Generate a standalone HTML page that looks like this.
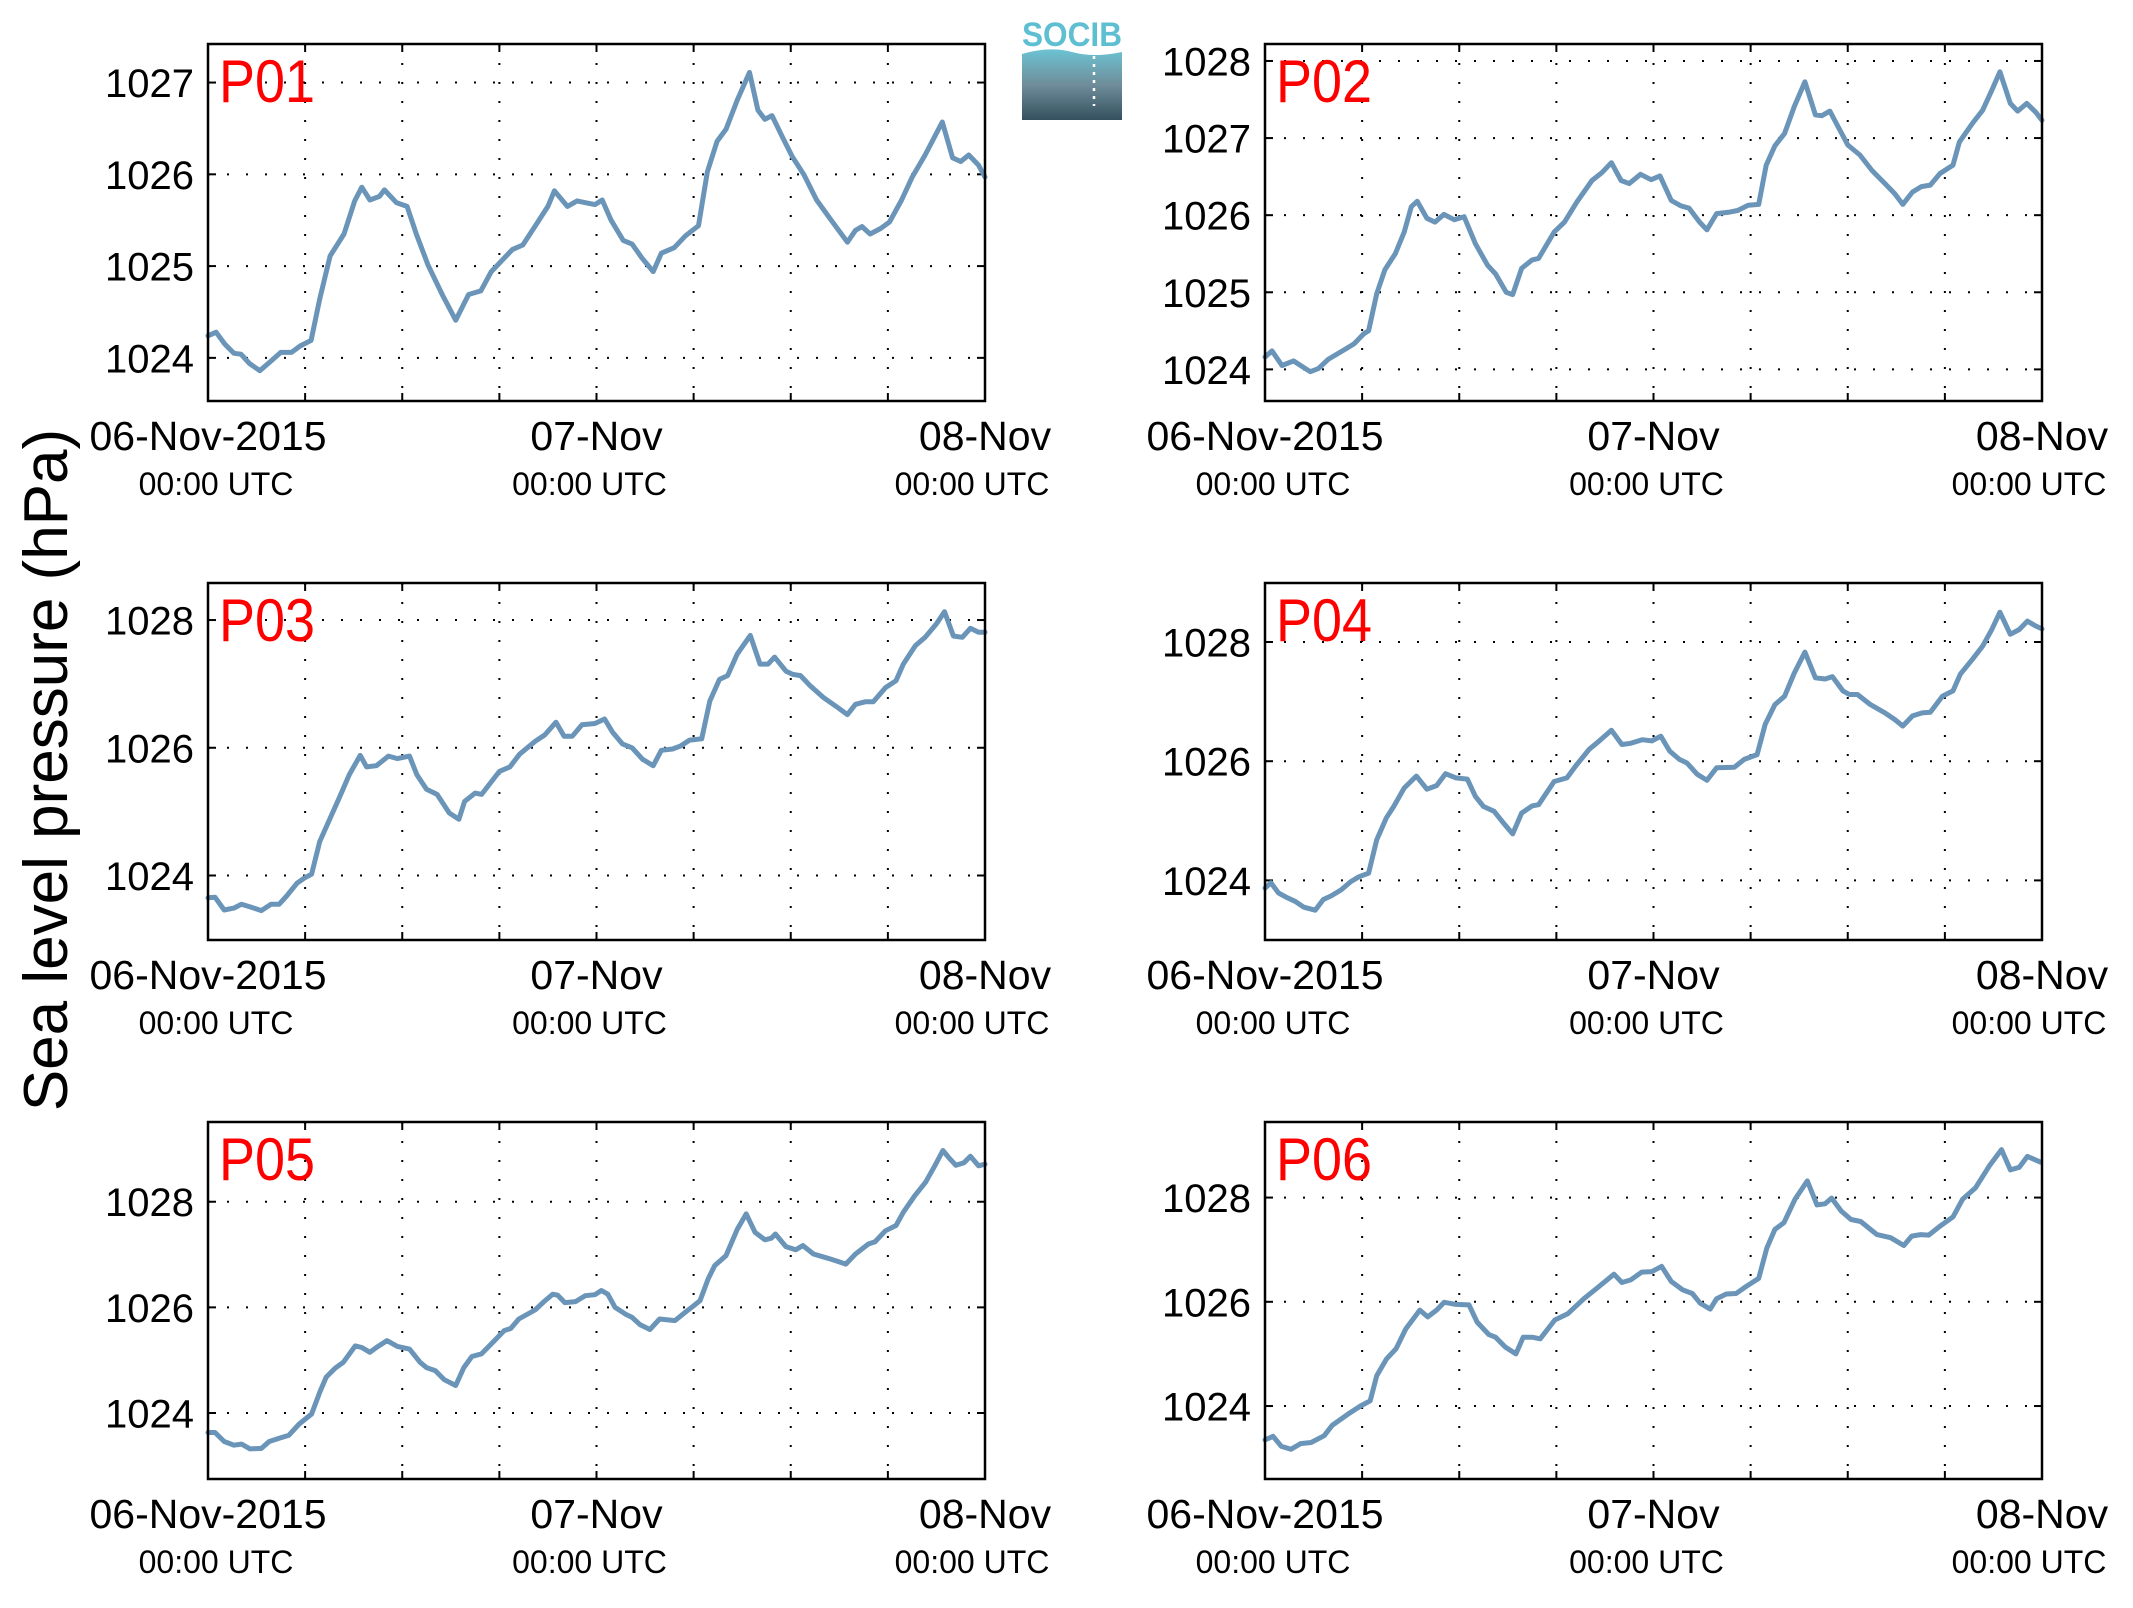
<!DOCTYPE html>
<html><head><meta charset="utf-8">
<style>
html,body{margin:0;padding:0;background:#fff;}
svg{display:block;}
text{font-family:"Liberation Sans",Arial,sans-serif;}
</style></head>
<body>
<svg id="chart" width="2133" height="1608" viewBox="0 0 2133 1608" xmlns="http://www.w3.org/2000/svg">
  <rect x="0" y="0" width="2133" height="1608" fill="#fff"/>
  <text x="0" y="0" font-size="62" text-anchor="middle" transform="translate(67,770) rotate(-90)" fill="#000">Sea level pressure (hPa)</text>
  <g>
    <defs>
      <linearGradient id="lg" x1="0" y1="0" x2="0" y2="1">
        <stop offset="0" stop-color="#6cc3d3"/>
        <stop offset="0.5" stop-color="#6f8d9a"/>
        <stop offset="1" stop-color="#34505e"/>
      </linearGradient>
    </defs>
    <text x="1072" y="46" font-size="34" font-weight="bold" text-anchor="middle" fill="#5fbfd2" textLength="100" lengthAdjust="spacingAndGlyphs">SOCIB</text>
    <path d="M1022 54 Q1050 46 1072 52 T1122 52 L1122 120 L1022 120 Z" fill="url(#lg)"/>
    <line x1="1094" y1="56" x2="1094" y2="106" stroke="#fff" stroke-width="2.5" stroke-dasharray="3 5"/>
  </g>
  <g id="panels"></g>
</svg>
<script>
const hourTicks = [0, 24, 48];
const dateLabels = ["06-Nov-2015", "07-Nov", "08-Nov"];
const timeLabels = ["00:00 UTC", "00:00 UTC", "00:00 UTC"];

const p01Hours = [0,0.5,1.04,1.6,2.04,2.56,3.2,3.86,4.5,5.16,5.7,6.37,6.9,7.54,8.4,9.06,9.5,10,10.6,10.9,11.65,12.3,12.87,13.6,14.5,15.3,16.1,16.85,17.5,18.15,18.8,19.45,20.3,21,21.4,22.2,22.8,23.35,23.9,24.35,24.9,25.65,26.2,26.8,27.5,28,28.8,29.5,30.3,30.85,31.45,32,32.7,33.45,33.97,34.4,34.84,35.5,36.1,36.8,37.6,38.5,39.5,40,40.4,40.9,41.55,42.1,42.85,43.5,44.3,45.36,46,46.5,47,47.6,48];
const p01Values = [1024.24,1024.28,1024.15,1024.05,1024.04,1023.94,1023.86,1023.96,1024.06,1024.06,1024.13,1024.19,1024.64,1025.11,1025.35,1025.71,1025.86,1025.72,1025.76,1025.83,1025.69,1025.65,1025.35,1025.01,1024.68,1024.41,1024.69,1024.73,1024.94,1025.06,1025.18,1025.23,1025.46,1025.65,1025.82,1025.65,1025.71,1025.69,1025.67,1025.72,1025.5,1025.28,1025.24,1025.09,1024.94,1025.14,1025.2,1025.33,1025.44,1026.03,1026.36,1026.49,1026.81,1027.11,1026.7,1026.6,1026.64,1026.4,1026.19,1026.0,1025.72,1025.5,1025.26,1025.39,1025.43,1025.35,1025.41,1025.48,1025.72,1025.97,1026.21,1026.57,1026.18,1026.14,1026.21,1026.1,1025.97];

const p02Hours = [0,0.43,1.05,1.76,2.2,2.8,3.3,3.9,4.86,5.5,6.1,6.4,6.9,7.4,8.05,8.6,9.04,9.4,10,10.5,11.05,11.7,12.3,13,13.75,14.24,14.9,15.3,15.85,16.5,16.9,17.86,18.5,19.26,20.2,20.8,21.4,22,22.5,23.2,23.85,24.4,25.1,25.7,26.2,26.85,27.3,27.9,28.7,29.2,29.85,30.5,30.96,31.5,32.1,32.7,33.35,34,34.4,34.9,35.35,36,36.75,37.5,38.3,38.9,39.4,40,40.55,41.1,41.7,42.5,42.9,43.7,44.33,44.9,45.4,46.04,46.5,47.06,47.6,48];
const p02Values = [1024.16,1024.24,1024.05,1024.11,1024.05,1023.97,1024.01,1024.13,1024.25,1024.33,1024.46,1024.5,1024.98,1025.29,1025.5,1025.78,1026.11,1026.18,1025.96,1025.91,1026.01,1025.94,1025.98,1025.63,1025.35,1025.24,1025.0,1024.97,1025.31,1025.42,1025.44,1025.78,1025.91,1026.17,1026.45,1026.55,1026.68,1026.45,1026.41,1026.53,1026.46,1026.51,1026.19,1026.12,1026.09,1025.91,1025.81,1026.02,1026.04,1026.06,1026.13,1026.14,1026.65,1026.9,1027.06,1027.41,1027.73,1027.3,1027.29,1027.35,1027.17,1026.91,1026.78,1026.58,1026.41,1026.28,1026.14,1026.3,1026.37,1026.39,1026.54,1026.65,1026.95,1027.19,1027.36,1027.62,1027.86,1027.45,1027.35,1027.45,1027.34,1027.23];

const p03Hours = [0,0.43,1,1.6,2.07,2.7,3.3,3.9,4.4,4.86,5.5,5.95,6.4,6.9,7.5,8.1,8.73,9.4,9.8,10.4,11.15,11.7,12.45,12.9,13.5,14.15,14.9,15.5,15.85,16.5,16.9,18,18.65,19.25,20.2,20.8,21.5,22,22.5,23.1,23.9,24.5,25,25.6,26.2,26.85,27.5,28,28.7,29.2,29.75,30.5,31,31.6,32.1,32.7,33.5,34.1,34.6,35,35.7,36.1,36.6,37.2,38,38.9,39.5,40,40.6,41.1,41.85,42.5,42.95,43.7,44.3,45,45.5,46.05,46.6,47.1,47.6,48];
const p03Values = [1023.65,1023.66,1023.46,1023.49,1023.55,1023.5,1023.45,1023.55,1023.55,1023.68,1023.88,1023.96,1024.02,1024.53,1024.87,1025.21,1025.58,1025.88,1025.7,1025.72,1025.87,1025.83,1025.87,1025.58,1025.35,1025.27,1024.98,1024.88,1025.16,1025.29,1025.27,1025.63,1025.7,1025.9,1026.1,1026.2,1026.4,1026.18,1026.18,1026.36,1026.38,1026.45,1026.24,1026.06,1026.0,1025.82,1025.72,1025.96,1025.98,1026.03,1026.12,1026.14,1026.73,1027.07,1027.13,1027.47,1027.76,1027.31,1027.31,1027.42,1027.2,1027.15,1027.13,1026.97,1026.79,1026.63,1026.52,1026.68,1026.72,1026.72,1026.94,1027.05,1027.31,1027.6,1027.73,1027.94,1028.13,1027.75,1027.73,1027.87,1027.81,1027.81];

const p04Hours = [0,0.37,0.83,1.3,1.86,2.4,3.1,3.6,4.09,4.7,5.3,5.8,6.4,6.9,7.5,7.95,8.6,9.35,10,10.6,11.15,11.8,12.5,13,13.5,14.15,14.8,15.3,15.85,16.5,16.9,17.86,18.65,19.25,20.03,20.65,21.4,22.05,22.6,23.3,23.9,24.45,25,25.6,26.07,26.7,27.3,27.9,29,29.6,30.4,30.9,31.5,32.1,32.7,33.35,34,34.6,35.05,35.7,36.1,36.6,37.4,38.3,38.9,39.4,40,40.6,41.1,41.85,42.5,42.95,43.7,44.33,44.9,45.4,46.04,46.6,47.1,47.6,48];
const p04Values = [1023.87,1023.96,1023.79,1023.72,1023.65,1023.55,1023.5,1023.68,1023.74,1023.84,1023.98,1024.06,1024.12,1024.68,1025.05,1025.24,1025.55,1025.75,1025.53,1025.59,1025.79,1025.72,1025.7,1025.41,1025.24,1025.16,1024.94,1024.78,1025.13,1025.25,1025.27,1025.66,1025.72,1025.94,1026.2,1026.34,1026.52,1026.28,1026.3,1026.36,1026.34,1026.42,1026.17,1026.03,1025.97,1025.78,1025.68,1025.89,1025.9,1026.03,1026.11,1026.62,1026.95,1027.09,1027.48,1027.83,1027.4,1027.38,1027.42,1027.18,1027.12,1027.12,1026.95,1026.81,1026.7,1026.59,1026.76,1026.81,1026.82,1027.09,1027.18,1027.46,1027.71,1027.93,1028.21,1028.5,1028.13,1028.21,1028.35,1028.27,1028.22];

const p05Hours = [0,0.43,1,1.6,2.07,2.6,3.3,3.78,4.4,5,5.63,6.4,6.9,7.3,7.86,8.36,9.1,9.5,10,10.4,11.05,11.7,12.45,13.1,13.5,14.05,14.6,15.3,15.8,16.3,16.9,17.7,18.3,18.7,19.2,20.2,20.8,21.3,21.6,22.05,22.7,23.3,23.9,24.3,24.7,25.15,25.8,26.2,26.7,27.3,27.9,28.85,29.5,30,30.4,30.9,31.3,32,32.7,33.25,33.8,34.4,34.8,35.05,35.7,36.3,36.75,37.4,38.3,38.9,39.4,40,40.8,41.2,41.85,42.5,42.95,43.65,44.33,44.9,45.4,45.75,46.2,46.7,47.1,47.6,48];
const p05Values = [1023.63,1023.63,1023.46,1023.39,1023.41,1023.32,1023.33,1023.46,1023.52,1023.58,1023.79,1023.98,1024.39,1024.68,1024.85,1024.96,1025.27,1025.24,1025.15,1025.24,1025.37,1025.26,1025.21,1024.96,1024.86,1024.8,1024.63,1024.52,1024.86,1025.07,1025.12,1025.37,1025.56,1025.6,1025.78,1025.95,1026.12,1026.25,1026.23,1026.09,1026.11,1026.22,1026.24,1026.32,1026.25,1026.0,1025.87,1025.81,1025.67,1025.58,1025.78,1025.75,1025.91,1026.03,1026.13,1026.54,1026.79,1026.98,1027.48,1027.77,1027.42,1027.28,1027.31,1027.39,1027.15,1027.09,1027.17,1027.01,1026.93,1026.87,1026.82,1027.01,1027.2,1027.24,1027.45,1027.55,1027.8,1028.11,1028.37,1028.68,1028.97,1028.84,1028.69,1028.74,1028.86,1028.68,1028.71];

const p06Hours = [0,0.5,1.0,1.6,2.2,2.85,3.66,4.15,5.1,5.9,6.5,6.9,7.5,8.1,8.7,9.56,10.05,10.6,11.07,11.8,12.6,13.1,13.83,14.24,14.85,15.5,15.95,16.5,17,17.9,18.7,19.7,20.5,21.56,22.05,22.6,23.27,23.9,24.5,25.1,25.8,26.4,26.9,27.5,27.9,28.5,29.1,29.7,30.5,31,31.5,32.06,32.75,33.5,34.1,34.6,35,35.6,36.2,36.8,37.8,38.65,39.46,39.95,40.5,41,41.7,42.5,43.1,43.9,44.75,45.5,46.05,46.6,47.1,47.9];
const p06Values = [1023.35,1023.42,1023.23,1023.17,1023.28,1023.3,1023.43,1023.63,1023.84,1024.0,1024.1,1024.58,1024.9,1025.1,1025.48,1025.84,1025.71,1025.84,1025.99,1025.95,1025.94,1025.61,1025.37,1025.32,1025.13,1025.0,1025.32,1025.32,1025.29,1025.65,1025.77,1026.06,1026.26,1026.53,1026.37,1026.42,1026.57,1026.58,1026.68,1026.39,1026.23,1026.16,1025.97,1025.86,1026.06,1026.15,1026.16,1026.29,1026.45,1027.03,1027.39,1027.52,1027.97,1028.32,1027.86,1027.88,1027.99,1027.74,1027.58,1027.54,1027.29,1027.23,1027.08,1027.26,1027.29,1027.28,1027.45,1027.63,1027.97,1028.19,1028.61,1028.92,1028.53,1028.58,1028.79,1028.68];

const panelNames = ["P01","P02","P03","P04","P05","P06"];
const panelHours = [p01Hours,p02Hours,p03Hours,p04Hours,p05Hours,p06Hours];
const panelValues = [p01Values,p02Values,p03Values,p04Values,p05Values,p06Values];
const yMins = [1023.53,1023.59,1022.99,1023.0,1022.75,1022.6];
const yMaxs = [1027.42,1028.22,1028.58,1028.99,1029.51,1029.45];
const yTickSets = [[1024,1025,1026,1027],[1024,1025,1026,1027,1028],[1024,1026,1028],[1024,1026,1028],[1024,1026,1028],[1024,1026,1028]];

const NS = "http://www.w3.org/2000/svg";
const root = document.getElementById("panels");
const colX = [208, 1265], rowY = [44, 583, 1122], PW = 777, PH = 357;
const time2Offsets = [8, -7, -13];

function mk(tag, attrs, parent) {
  const e = document.createElementNS(NS, tag);
  for (const k in attrs) e.setAttribute(k, attrs[k]);
  parent.appendChild(e);
  return e;
}

panelNames.forEach((name, i) => {
  const x0 = colX[i % 2], y0 = rowY[Math.floor(i / 2)];
  const ymin = yMins[i], ymax = yMaxs[i];
  const sx = h => x0 + h / 48 * PW;
  const sy = v => y0 + PH - (v - ymin) / (ymax - ymin) * PH;
  const g = mk("g", {}, root);
  
  

  for (let h = 6; h < 48; h += 6) {
    const l = mk("line", {x1: sx(h), x2: sx(h), y1: y0, y2: y0 + PH, stroke: "#000", "stroke-width": 2, "stroke-dasharray": "2 17"}, g);
    
    
    const t1 = mk("line", {x1: sx(h), x2: sx(h), y1: y0 + PH, y2: y0 + PH - 8, stroke: "#000", "stroke-width": 2}, g);
    
    
    const t2 = mk("line", {x1: sx(h), x2: sx(h), y1: y0, y2: y0 + 8, stroke: "#000", "stroke-width": 2}, g);
    
    
  }
  yTickSets[i].forEach(v => {
    const y = sy(v);
    const l = mk("line", {x1: x0, x2: x0 + PW, y1: y, y2: y, stroke: "#000", "stroke-width": 2, "stroke-dasharray": "2 17"}, g);
    
    
    const t1 = mk("line", {x1: x0, x2: x0 + 8, y1: y, y2: y, stroke: "#000", "stroke-width": 2}, g);
    
    
    const t2 = mk("line", {x1: x0 + PW - 8, x2: x0 + PW, y1: y, y2: y, stroke: "#000", "stroke-width": 2}, g);
    
    
    const tl = mk("text", {x: x0 - 14, y: y + 14.5, "font-size": 40, "text-anchor": "end", fill: "#000"}, g);
    tl.textContent = String(v);
    
    
  });
  hourTicks.forEach((h, k) => {
    const d = mk("text", {x: sx(h), y: y0 + PH + 49, "font-size": 41, "text-anchor": "middle", fill: "#000"}, g);
    d.textContent = dateLabels[k];
    
    
    const t = mk("text", {x: sx(h) + time2Offsets[k], y: y0 + PH + 94, "font-size": 32, "text-anchor": "middle", fill: "#000"}, g);
    t.textContent = timeLabels[k];
    
    
  });
  const hrs = panelHours[i], vals = panelValues[i];
  const d = hrs.map((h, k) => (k ? "L" : "M") + sx(h).toFixed(1) + " " + sy(vals[k]).toFixed(1)).join(" ");
  const p = mk("path", {d: d, fill: "none", stroke: "#6a95b9", "stroke-width": 5, "stroke-linejoin": "round", "stroke-linecap": "round"}, g);
  
  
  const f = mk("rect", {x: x0, y: y0, width: PW, height: PH, fill: "none", stroke: "#000", "stroke-width": 2.5}, g);
  
  
  const tt = mk("text", {x: x0 + 11, y: y0 + 58, "font-size": 60, fill: "#ff0000", textLength: 96, lengthAdjust: "spacingAndGlyphs"}, g);
  tt.textContent = name;
  
  
});
</script>
</body></html>
